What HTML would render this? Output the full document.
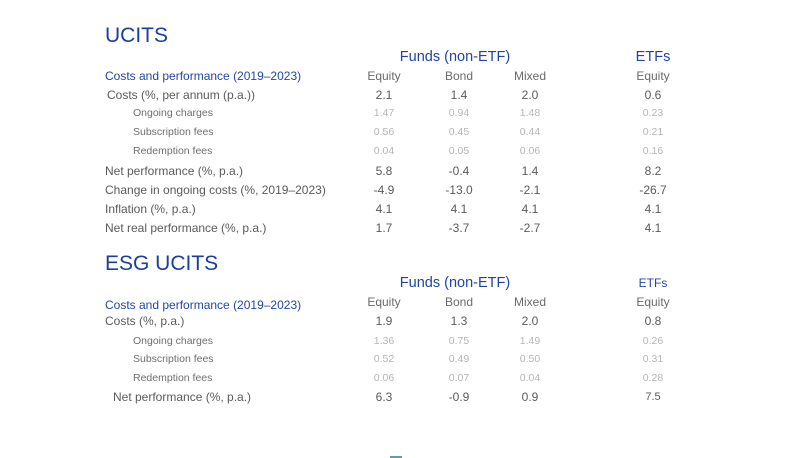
<!DOCTYPE html>
<html><head><meta charset="utf-8"><style>
html,body{margin:0;padding:0;background:#fff;}
body{width:792px;height:458px;position:relative;overflow:hidden;font-family:"Liberation Sans",Arial,sans-serif;}
.t{position:absolute;white-space:nowrap;line-height:1;}
.c{transform:translateX(-50%);}
.title{font-size:21px;color:#1a3f9e;}
.grp{font-size:14.5px;color:#1f44a6;}
.hl{font-size:12px;color:#2246a8;}
.hd{font-size:12px;color:#6a6a6a;}
.m{font-size:12px;color:#5a5a5a;}
.s{font-size:10.5px;color:#b5b5b5;}
.sl{font-size:10.5px;color:#6e6e6e;}
</style></head><body>
<!-- UCITS -->
<div class="t title" style="left:105px;top:25px;">UCITS</div>
<div class="t grp c" style="left:455px;top:50px;">Funds (non-ETF)</div>
<div class="t grp c" style="left:653px;top:50px;">ETFs</div>

<div class="t hl" style="left:105px;top:70px;">Costs and performance (2019–2023)</div>
<div class="t hd c" style="left:384px;top:70px;">Equity</div>
<div class="t hd c" style="left:459px;top:70px;">Bond</div>
<div class="t hd c" style="left:530px;top:70px;">Mixed</div>
<div class="t hd c" style="left:653px;top:70px;">Equity</div>

<div class="t m" style="left:107px;top:89px;">Costs (%, per annum (p.a.))</div>
<div class="t m c" style="left:384px;top:89px;">2.1</div>
<div class="t m c" style="left:459px;top:89px;">1.4</div>
<div class="t m c" style="left:530px;top:89px;">2.0</div>
<div class="t m c" style="left:653px;top:89px;">0.6</div>

<div class="t sl" style="left:133px;top:108px;">Ongoing charges</div>
<div class="t s c" style="left:384px;top:108px;">1.47</div>
<div class="t s c" style="left:459px;top:108px;">0.94</div>
<div class="t s c" style="left:530px;top:108px;">1.48</div>
<div class="t s c" style="left:653px;top:108px;">0.23</div>

<div class="t sl" style="left:133px;top:127px;">Subscription fees</div>
<div class="t s c" style="left:384px;top:127px;">0.56</div>
<div class="t s c" style="left:459px;top:127px;">0.45</div>
<div class="t s c" style="left:530px;top:127px;">0.44</div>
<div class="t s c" style="left:653px;top:127px;">0.21</div>

<div class="t sl" style="left:133px;top:146px;">Redemption fees</div>
<div class="t s c" style="left:384px;top:146px;">0.04</div>
<div class="t s c" style="left:459px;top:146px;">0.05</div>
<div class="t s c" style="left:530px;top:146px;">0.06</div>
<div class="t s c" style="left:653px;top:146px;">0.16</div>

<div class="t m" style="left:105px;top:165px;">Net performance (%, p.a.)</div>
<div class="t m c" style="left:384px;top:165px;">5.8</div>
<div class="t m c" style="left:459px;top:165px;">-0.4</div>
<div class="t m c" style="left:530px;top:165px;">1.4</div>
<div class="t m c" style="left:653px;top:165px;">8.2</div>

<div class="t m" style="left:105px;top:184px;">Change in ongoing costs (%, 2019–2023)</div>
<div class="t m c" style="left:384px;top:184px;">-4.9</div>
<div class="t m c" style="left:459px;top:184px;">-13.0</div>
<div class="t m c" style="left:530px;top:184px;">-2.1</div>
<div class="t m c" style="left:653px;top:184px;">-26.7</div>

<div class="t m" style="left:105px;top:203px;">Inflation (%, p.a.)</div>
<div class="t m c" style="left:384px;top:203px;">4.1</div>
<div class="t m c" style="left:459px;top:203px;">4.1</div>
<div class="t m c" style="left:530px;top:203px;">4.1</div>
<div class="t m c" style="left:653px;top:203px;">4.1</div>

<div class="t m" style="left:105px;top:222px;">Net real performance (%, p.a.)</div>
<div class="t m c" style="left:384px;top:222px;">1.7</div>
<div class="t m c" style="left:459px;top:222px;">-3.7</div>
<div class="t m c" style="left:530px;top:222px;">-2.7</div>
<div class="t m c" style="left:653px;top:222px;">4.1</div>

<!-- ESG UCITS -->
<div class="t title" style="left:105px;top:253px;">ESG UCITS</div>
<div class="t grp c" style="left:455px;top:276px;">Funds (non-ETF)</div>
<div class="t hl c" style="left:653px;top:277px;">ETFs</div>

<div class="t hl" style="left:105px;top:299px;">Costs and performance (2019–2023)</div>
<div class="t hd c" style="left:384px;top:296px;">Equity</div>
<div class="t hd c" style="left:459px;top:296px;">Bond</div>
<div class="t hd c" style="left:530px;top:296px;">Mixed</div>
<div class="t hd c" style="left:653px;top:296px;">Equity</div>

<div class="t m" style="left:105px;top:315px;">Costs (%, p.a.)</div>
<div class="t m c" style="left:384px;top:315px;">1.9</div>
<div class="t m c" style="left:459px;top:315px;">1.3</div>
<div class="t m c" style="left:530px;top:315px;">2.0</div>
<div class="t m c" style="left:653px;top:315px;">0.8</div>

<div class="t sl" style="left:133px;top:336px;">Ongoing charges</div>
<div class="t s c" style="left:384px;top:336px;">1.36</div>
<div class="t s c" style="left:459px;top:336px;">0.75</div>
<div class="t s c" style="left:530px;top:336px;">1.49</div>
<div class="t s c" style="left:653px;top:336px;">0.26</div>

<div class="t sl" style="left:133px;top:354px;">Subscription fees</div>
<div class="t s c" style="left:384px;top:354px;">0.52</div>
<div class="t s c" style="left:459px;top:354px;">0.49</div>
<div class="t s c" style="left:530px;top:354px;">0.50</div>
<div class="t s c" style="left:653px;top:354px;">0.31</div>

<div class="t sl" style="left:133px;top:373px;">Redemption fees</div>
<div class="t s c" style="left:384px;top:373px;">0.06</div>
<div class="t s c" style="left:459px;top:373px;">0.07</div>
<div class="t s c" style="left:530px;top:373px;">0.04</div>
<div class="t s c" style="left:653px;top:373px;">0.28</div>

<div class="t m" style="left:113px;top:391px;">Net performance (%, p.a.)</div>
<div class="t m c" style="left:384px;top:391px;">6.3</div>
<div class="t m c" style="left:459px;top:391px;">-0.9</div>
<div class="t m c" style="left:530px;top:391px;">0.9</div>
<div class="t m c" style="left:653px;top:392px;font-size:11px;">7.5</div>

<div style="position:absolute;left:390px;top:456px;width:12px;height:2px;background:#5e9ea6;"></div>
</body></html>
